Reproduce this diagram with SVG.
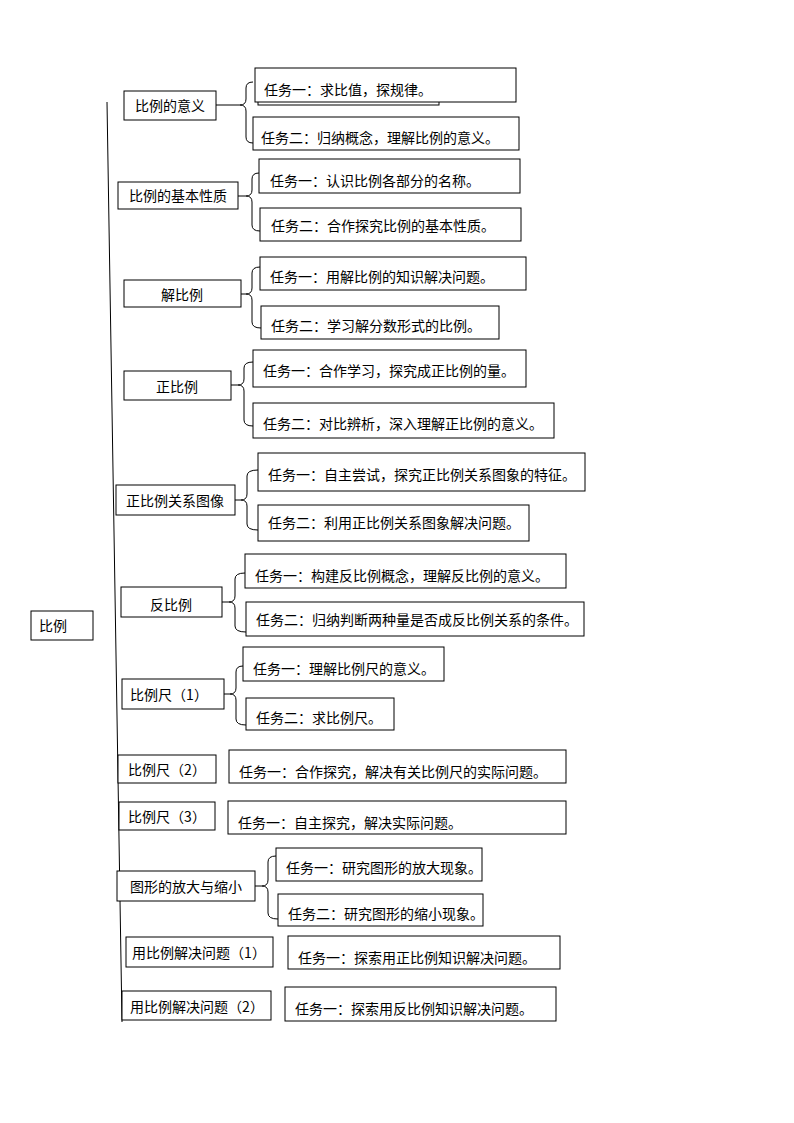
<svg xmlns="http://www.w3.org/2000/svg" width="794" height="1123" viewBox="0 0 794 1123">
<style>
rect{fill:#fff;stroke:#000;stroke-width:1}
text{font-family:"Noto Sans CJK SC","Liberation Sans",sans-serif;font-size:14px;fill:#000}
.c{text-anchor:middle}
path{fill:none;stroke:#000;stroke-width:1}
</style>
<rect width="794" height="1123" style="stroke:none"/>
<g id="connectors">
<path d="M107 102 L122 1022"/>
<path d="M216 105 H240 M253 82 Q246 82 246 88 V99 Q246 105 240 105 Q246 105 246 111 V137 Q246 143 253 143"/>
<path d="M238 196 H246 M259 173 Q252 173 252 179 V190 Q252 196 246 196 Q252 196 252 202 V225 Q252 231 260 231"/>
<path d="M241 294 H246 M260 267 Q252 267 252 273 V288 Q252 294 246 294 Q252 294 252 300 V322 Q252 328 261 328"/>
<path d="M231 385 H238 M253 362 Q244 362 244 368 V379 Q244 385 238 385 Q244 385 244 391 V420 Q244 426 253 426"/>
<path d="M235 500 H241 M258 470 Q247 470 247 476 V494 Q247 500 241 500 Q247 500 247 506 V524 Q247 530 258 530"/>
<path d="M222 602 H229 M245 573 Q235 573 235 579 V596 Q235 602 229 602 Q235 602 235 608 V626 Q235 632 246 632"/>
<path d="M224 694 H230 M243 666 Q236 666 236 672 V688 Q236 694 230 694 Q236 694 236 700 V719 Q236 725 246 725"/>
<path d="M255 886 H262 M276 856 Q268 856 268 862 V880 Q268 886 262 886 Q268 886 268 892 V913 Q268 919 278 919"/>
</g>
<g id="root"><rect x="31" y="611" width="62" height="29"/><text x="39" y="631">比例</text></g>
<g id="n1"><rect x="124" y="91" width="92" height="29"/><text class="c" x="170" y="111">比例的意义</text></g>
<g id="n1a"><rect x="258" y="78" width="181" height="27"/><rect x="255" y="68" width="261" height="34"/><text x="264" y="95">任务一：求比值，探规律。</text></g>
<g id="n1b"><rect x="253" y="117" width="266" height="33"/><text x="261" y="143">任务二：归纳概念，理解比例的意义。</text></g>
<g id="n2"><rect x="118" y="182" width="120" height="27"/><text class="c" x="178" y="201">比例的基本性质</text></g>
<g id="n2a"><rect x="259" y="159" width="261" height="34"/><text x="270" y="186">任务一：认识比例各部分的名称。</text></g>
<g id="n2b"><rect x="260" y="208" width="261" height="33"/><text x="271" y="231">任务二：合作探究比例的基本性质。</text></g>
<g id="n3"><rect x="124" y="280" width="117" height="27"/><text class="c" x="182" y="300">解比例</text></g>
<g id="n3a"><rect x="260" y="257" width="266" height="33"/><text x="270" y="282">任务一：用解比例的知识解决问题。</text></g>
<g id="n3b"><rect x="261" y="306" width="238" height="33"/><text x="271" y="331">任务二：学习解分数形式的比例。</text></g>
<g id="n4"><rect x="124" y="371" width="107" height="29"/><text class="c" x="177" y="392">正比例</text></g>
<g id="n4a"><rect x="253" y="350" width="273" height="37"/><text x="263" y="376">任务一：合作学习，探究成正比例的量。</text></g>
<g id="n4b"><rect x="253" y="403" width="301" height="35"/><text x="263" y="429">任务二：对比辨析，深入理解正比例的意义。</text></g>
<g id="n5"><rect x="116" y="485" width="119" height="30"/><text class="c" x="175" y="506">正比例关系图像</text></g>
<g id="n5a"><rect x="258" y="453" width="327" height="38"/><text x="268" y="480">任务一：自主尝试，探究正比例关系图象的特征。</text></g>
<g id="n5b"><rect x="258" y="505" width="271" height="36"/><text x="268" y="528">任务二：利用正比例关系图象解决问题。</text></g>
<g id="n6"><rect x="121" y="587" width="101" height="30"/><text class="c" x="171" y="610">反比例</text></g>
<g id="n6a"><rect x="245" y="554" width="321" height="34"/><text x="255" y="581">任务一：构建反比例概念，理解反比例的意义。</text></g>
<g id="n6b"><rect x="246" y="602" width="338" height="34"/><text x="256" y="625">任务二：归纳判断两种量是否成反比例关系的条件。</text></g>
<g id="n7"><rect x="122" y="679" width="102" height="30"/><text class="c" x="169" y="700">比例尺（1）</text></g>
<g id="n7a"><rect x="243" y="647" width="201" height="34"/><text x="253" y="674">任务一：理解比例尺的意义。</text></g>
<g id="n7b"><rect x="246" y="698" width="148" height="32"/><text x="256" y="723">任务二：求比例尺。</text></g>
<g id="n8"><rect x="118" y="755" width="98" height="28"/><text class="c" x="167" y="775">比例尺（2）</text></g>
<g id="n8a"><rect x="229" y="750" width="337" height="33"/><text x="239" y="777">任务一：合作探究，解决有关比例尺的实际问题。</text></g>
<g id="n9"><rect x="119" y="802" width="96" height="28"/><text class="c" x="167" y="822">比例尺（3）</text></g>
<g id="n9a"><rect x="228" y="801" width="338" height="33"/><text x="238" y="828">任务一：自主探究，解决实际问题。</text></g>
<g id="n10"><rect x="117" y="871" width="138" height="30"/><text class="c" x="186" y="892">图形的放大与缩小</text></g>
<g id="n10a"><rect x="276" y="848" width="206" height="33"/><text x="286" y="873">任务一：研究图形的放大现象。</text></g>
<g id="n10b"><rect x="278" y="894" width="205" height="32"/><text x="288" y="919">任务二：研究图形的缩小现象。</text></g>
<g id="n11"><rect x="126" y="937" width="147" height="30"/><text class="c" x="199" y="958">用比例解决问题（1）</text></g>
<g id="n11a"><rect x="288" y="936" width="272" height="33"/><text x="298" y="963">任务一：探索用正比例知识解决问题。</text></g>
<g id="n12"><rect x="122" y="991" width="149" height="29"/><text class="c" x="197" y="1012">用比例解决问题（2）</text></g>
<g id="n12a"><rect x="285" y="987" width="271" height="34"/><text x="295" y="1014">任务一：探索用反比例知识解决问题。</text></g>
</svg>
